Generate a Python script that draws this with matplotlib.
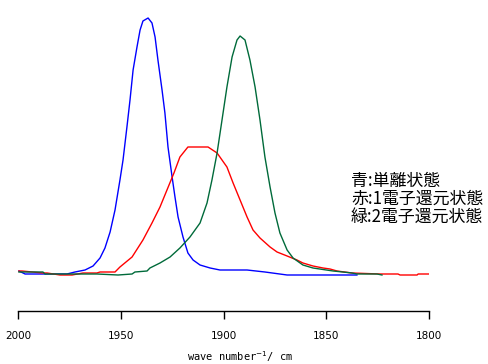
import matplotlib
matplotlib.use("Agg")
import matplotlib.pyplot as plt

# wavenumber (cm^-1) and intensity (arbitrary units)
blue_wn = [1999.7, 1996.7, 1988.5, 1976.3, 1972.4, 1967.5, 1963.6, 1960.2, 1957.8, 1955.3,
           1952.9, 1950.5, 1949.0, 1947.1, 1945.6, 1944.1, 1942.2, 1940.7, 1939.3, 1936.8,
           1934.9, 1933.4, 1932.0, 1930.0, 1928.6, 1927.1, 1925.1, 1923.7, 1922.2, 1919.8,
           1917.4, 1914.9, 1911.5, 1906.6, 1901.8, 1896.9, 1888.6, 1879.9, 1869.1, 1862.8,
           1848.2, 1835.1]
blue_y = [0.40, 0.37, 0.37, 0.37, 0.39, 0.41, 0.45, 0.53, 0.63, 0.79,
          1.01, 1.31, 1.51, 1.84, 2.11, 2.41, 2.64, 2.81, 2.90, 2.93,
          2.88, 2.74, 2.51, 2.21, 1.98, 1.64, 1.34, 1.14, 0.94, 0.74,
          0.58, 0.51, 0.46, 0.43, 0.41, 0.41, 0.41, 0.39, 0.36, 0.36,
          0.36, 0.36]

red_wn = [1999.7, 1998.2, 1988.0, 1986.0, 1979.7, 1973.8, 1968.5, 1961.7, 1960.2, 1952.9,
          1950.5, 1944.6, 1939.3, 1934.9, 1931.0, 1927.6, 1924.2, 1921.3, 1917.4,
          1914.9, 1907.6, 1903.2, 1898.4, 1895.4, 1892.0, 1888.6, 1885.7, 1882.3,
          1877.4, 1874.0, 1869.1, 1864.3, 1861.4, 1856.5, 1851.6, 1848.2, 1844.8, 1837.5,
          1823.9, 1815.1, 1814.1, 1805.8, 1805.3, 1799.5]
red_y = [0.40, 0.40, 0.38, 0.38, 0.36, 0.36, 0.38, 0.38, 0.39, 0.39,
         0.44, 0.54, 0.71, 0.88, 1.04, 1.21, 1.38, 1.54, 1.64,
         1.64, 1.64, 1.58, 1.44, 1.28, 1.11, 0.94, 0.81, 0.73,
         0.64, 0.59, 0.55, 0.51, 0.48, 0.45, 0.43, 0.42, 0.40, 0.38,
         0.37, 0.37, 0.36, 0.36, 0.37, 0.37]

green_wn = [1999.7, 1988.0, 1987.0, 1961.7, 1951.4, 1944.6, 1943.2, 1937.3, 1935.9, 1931.0,
            1926.1, 1921.3, 1916.4, 1911.5, 1908.1, 1905.7, 1903.2, 1900.8, 1898.4, 1895.9,
            1893.5, 1892.0, 1889.6, 1887.2, 1884.7, 1882.3, 1879.9, 1877.4, 1875.0, 1872.6,
            1869.1, 1866.2, 1861.4, 1856.5, 1846.7, 1841.9, 1837.5, 1835.1, 1825.3, 1822.9]
green_y = [0.39, 0.39, 0.37, 0.37, 0.36, 0.37, 0.39, 0.40, 0.43, 0.48,
           0.54, 0.63, 0.74, 0.88, 1.08, 1.31, 1.58, 1.91, 2.24, 2.54,
           2.71, 2.75, 2.71, 2.51, 2.24, 1.91, 1.54, 1.24, 0.98, 0.78,
           0.61, 0.53, 0.46, 0.43, 0.40, 0.39, 0.38, 0.37, 0.37, 0.36]

xticks = [2000, 1950, 1900, 1850, 1800]
legend_lines = ["青:単離状態", "赤:1電子還元状態", "緑:2電子還元状態"]
xlabel = r"wave number$^{-1}$/ cm"

W, H = 488, 364
fig = plt.figure(figsize=(W / 100, H / 100), dpi=100)
ax = fig.add_axes([18.3 / W, (H - 311) / H, (429 - 18.3) / W, 311 / H])

ax.plot(blue_wn, blue_y, color="#0000ff", lw=1.0)
ax.plot(red_wn, red_y, color="#ff0000", lw=1.0)
ax.plot(green_wn, green_y, color="#006a3a", lw=1.0)

ax.set_xlim(2000, 1800)
ax.set_ylim(0, 3.11)
for s in ["top", "left", "right"]:
    ax.spines[s].set_visible(False)
ax.spines["bottom"].set_linewidth(1.0)
ax.set_yticks([])
ax.set_xticks(xticks)
ax.set_xticklabels([str(t) for t in xticks], fontsize=7.5, family="DejaVu Sans")
ax.tick_params(axis="x", direction="out", length=5.5, width=1.0, pad=9)

fig.text(240 / W, 1 - 357 / H, xlabel, ha="center", va="center",
         fontsize=7.5, family="DejaVu Sans Mono")

fam = ["Noto Sans CJK JP", "DejaVu Sans"]
for i, t in enumerate(legend_lines):
    fig.text(351 / W, 1 - (181 + i * 18) / H, t, ha="left", va="center",
             fontsize=12.2, family=fam)

fig.savefig("out.png", dpi=100)
